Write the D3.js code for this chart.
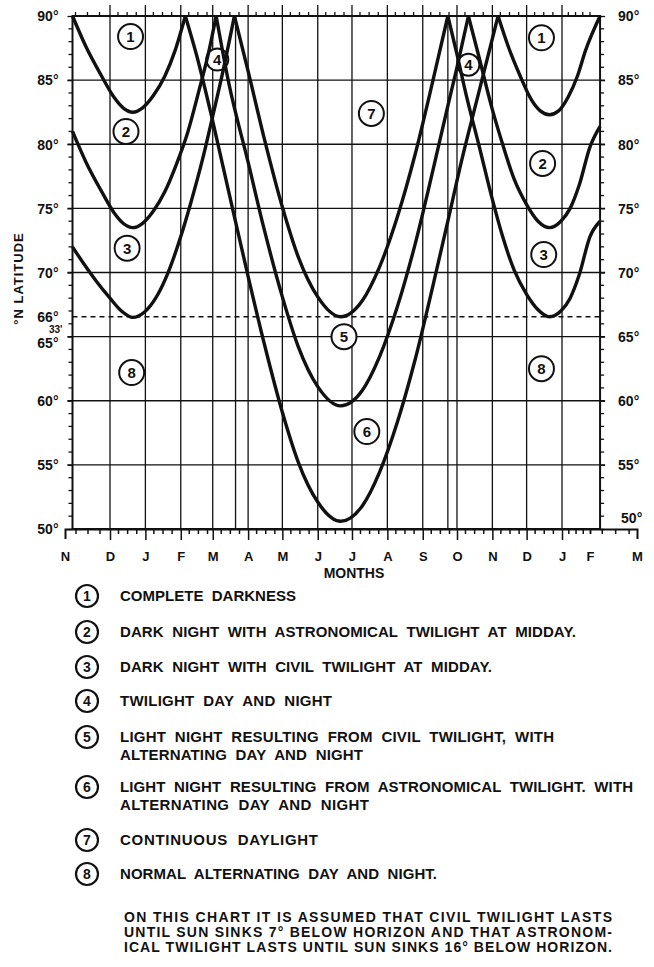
<!DOCTYPE html>
<html>
<head>
<meta charset="utf-8">
<script src="https://cdnjs.cloudflare.com/ajax/libs/d3/7.8.5/d3.min.js"></script>
<style>
  body { margin: 0; background: #fff; }
  svg text { font-family: "Liberation Sans", Arial, sans-serif; font-weight: bold; fill: #111; }
</style>
</head>
<body>
<script>
const parse = d3.timeParse('%Y-%m-%d');

// month letters along the bottom, Nov (year 0) .. Mar (year 2)
const monthLabels = ['N','D','J','F','M','A','M','J','J','A','S','O','N','D','J','F','M'];
const latTicks = [50, 55, 60, 65, 70, 75, 80, 85, 90];
const arcticCircle = 66.55;
const equinoxes = ['2001-03-21', '2001-09-23'];

// boundary curves, [date, latitude]
// sun 16 deg below horizon at midday (1 / 2)
const completeDark1 = [
  ['2000-11-06', 90], ['2000-11-15', 87.6], ['2000-11-25', 85.4], ['2000-12-05', 83.6],
  ['2000-12-13', 82.8], ['2000-12-21', 82.5], ['2000-12-29', 82.8], ['2001-01-08', 83.8],
  ['2001-01-18', 85.3], ['2001-01-27', 87.3], ['2001-02-05', 90]
];
const completeDark2 = [
  ['2001-11-06', 90], ['2001-11-15', 87.6], ['2001-11-25', 85.4], ['2001-12-05', 83.5],
  ['2001-12-13', 82.6], ['2001-12-21', 82.3], ['2001-12-29', 82.6], ['2002-01-08', 83.7],
  ['2002-01-18', 85.3], ['2002-01-27', 87.3], ['2002-02-07', 90]
];
// sun 7 deg below horizon at midday (2 / 3)
const astroNoon1 = [
  ['2000-11-06', 81.0], ['2000-11-15', 78.6], ['2000-11-25', 76.4], ['2000-12-05', 74.6],
  ['2000-12-13', 73.8], ['2000-12-21', 73.5], ['2000-12-29', 73.8], ['2001-01-08', 74.8],
  ['2001-01-18', 76.3], ['2001-01-28', 78.4], ['2001-02-07', 80.9], ['2001-02-17', 84.2],
  ['2001-02-25', 87.0], ['2001-03-04', 90]
];
const astroNoon2 = [
  ['2001-10-11', 90], ['2001-10-20', 86.9], ['2001-11-01', 82.7], ['2001-11-10', 80.0],
  ['2001-11-20', 77.3], ['2001-12-01', 75.3], ['2001-12-11', 74.0], ['2001-12-21', 73.5],
  ['2001-12-31', 74.0], ['2002-01-10', 75.0], ['2002-01-20', 76.8], ['2002-02-01', 79.8],
  ['2002-02-07', 81.4]
];
// sun at horizon at midday (3 / 8)
const civilNoon1 = [
  ['2000-11-06', 72.0], ['2000-11-14', 70.6], ['2000-11-22', 69.3], ['2000-12-01', 68.0],
  ['2000-12-11', 67.0], ['2000-12-21', 66.5], ['2000-12-31', 66.9], ['2001-01-10', 68.0],
  ['2001-01-20', 69.8], ['2001-02-01', 72.8], ['2001-02-10', 75.5], ['2001-02-20', 78.8],
  ['2001-03-01', 82.2], ['2001-03-10', 85.7], ['2001-03-20', 90]
];
const civilNoon2 = [
  ['2001-09-23', 90], ['2001-10-01', 87.0], ['2001-10-10', 83.5], ['2001-10-20', 80.0],
  ['2001-11-01', 75.7], ['2001-11-10', 72.8], ['2001-11-20', 70.2], ['2001-12-01', 68.3],
  ['2001-12-11', 67.1], ['2001-12-21', 66.55], ['2001-12-31', 67.0], ['2002-01-10', 68.0],
  ['2002-01-20', 69.8], ['2002-02-01', 72.8], ['2002-02-07', 74.0]
];
// summer: midnight sun (7 / 5)
const midnightSun = [
  ['2001-03-20', 90], ['2001-04-01', 85.7], ['2001-04-15', 80.5], ['2001-05-01', 75.1],
  ['2001-05-15', 71.2], ['2001-06-01', 68.1], ['2001-06-21', 66.55], ['2001-07-10', 67.8],
  ['2001-07-25', 70.4], ['2001-08-10', 74.4], ['2001-08-25', 79.1], ['2001-09-10', 85.0],
  ['2001-09-23', 90]
];
// summer: civil twilight all night (5 / 6)
const civilNight = [
  ['2001-03-04', 90], ['2001-03-15', 84.8], ['2001-04-01', 78.6], ['2001-04-15', 73.4],
  ['2001-05-01', 68.1], ['2001-05-15', 64.2], ['2001-06-01', 61.1], ['2001-06-21', 59.6],
  ['2001-07-10', 60.8], ['2001-07-25', 63.4], ['2001-08-10', 67.4], ['2001-08-25', 72.1],
  ['2001-09-10', 78.0], ['2001-09-23', 83.0], ['2001-10-01', 86.0], ['2001-10-11', 90]
];
// summer: astronomical twilight all night (6 / 8)
const astroNight = [
  ['2001-02-05', 90], ['2001-02-15', 86.9], ['2001-03-01', 81.8], ['2001-03-15', 76.3],
  ['2001-04-01', 69.7], ['2001-04-15', 64.5], ['2001-05-01', 59.1], ['2001-05-15', 55.2],
  ['2001-06-01', 52.1], ['2001-06-21', 50.6], ['2001-07-10', 51.8], ['2001-07-25', 54.4],
  ['2001-08-10', 58.4], ['2001-08-25', 63.1], ['2001-09-10', 69.0], ['2001-09-23', 74.0],
  ['2001-10-05', 78.7], ['2001-10-20', 84.0], ['2001-11-06', 90]
];

const curves = [completeDark1, completeDark2, astroNoon1, astroNoon2, civilNoon1,
                civilNoon2, midnightSun, civilNight, astroNight];

// circled region numbers placed on the chart
const regionMarks = [
  { n: '1', date: '2000-12-19', lat: 88.4 }, { n: '1', date: '2001-12-14', lat: 88.3 },
  { n: '2', date: '2000-12-15', lat: 81.0 }, { n: '2', date: '2001-12-15', lat: 78.5 },
  { n: '3', date: '2000-12-16', lat: 71.9 }, { n: '3', date: '2001-12-16', lat: 71.4 },
  { n: '4', date: '2001-03-05', lat: 86.6 }, { n: '4', date: '2001-10-11', lat: 86.2 },
  { n: '5', date: '2001-06-24', lat: 65.0 }, { n: '6', date: '2001-07-14', lat: 57.6 },
  { n: '7', date: '2001-07-18', lat: 82.4 },
  { n: '8', date: '2000-12-20', lat: 62.2 }, { n: '8', date: '2001-12-14', lat: 62.5 }
];

const legendItems = [
  ['1', ['COMPLETE  DARKNESS']],
  ['2', ['DARK  NIGHT  WITH  ASTRONOMICAL  TWILIGHT  AT  MIDDAY.']],
  ['3', ['DARK  NIGHT  WITH  CIVIL  TWILIGHT  AT  MIDDAY.']],
  ['4', ['TWILIGHT  DAY  AND  NIGHT']],
  ['5', ['LIGHT  NIGHT  RESULTING  FROM  CIVIL  TWILIGHT,  WITH', 'ALTERNATING  DAY  AND  NIGHT']],
  ['6', ['LIGHT  NIGHT  RESULTING  FROM  ASTRONOMICAL  TWILIGHT.  WITH', 'ALTERNATING  DAY  AND  NIGHT']],
  ['7', ['CONTINUOUS  DAYLIGHT']],
  ['8', ['NORMAL  ALTERNATING  DAY  AND  NIGHT.']]
];
const noteLines = [
  'ON THIS CHART IT IS ASSUMED THAT CIVIL TWILIGHT LASTS',
  'UNTIL SUN SINKS 7\u00b0 BELOW HORIZON AND THAT ASTRONOM-',
  'ICAL TWILIGHT LASTS UNTIL SUN SINKS 16\u00b0 BELOW HORIZON.'
];

// ---------- layout ----------
const W = 654, H = 967;
const plotTop = 16, plotBottom = 529;

// months are evenly spaced except the stretched end months
const x = d3.scaleTime()
  .domain([parse('2000-11-01'), parse('2000-12-01'), parse('2002-01-01'), parse('2002-02-01'), parse('2002-03-01')])
  .range([65, 110, 562, 590, 637]);
const y = d3.scaleLinear().domain([50, 90]).range([plotBottom, plotTop]);

const frameStart = parse('2000-11-06'), frameEnd = parse('2002-02-07');
const x0 = x(frameStart), x1 = x(frameEnd);

const monthDates = d3.timeMonth.range(parse('2000-11-01'), parse('2002-03-02'));
const gridMonths = monthDates.filter(d => d > frameStart && d < parse('2002-01-15'));
const minorDates = [];
monthDates.forEach(m => [8, 16, 24].forEach(day => {
  const d = new Date(m.getFullYear(), m.getMonth(), day);
  if (d < parse('2002-03-01')) minorDates.push(d);
}));
minorDates.push(parse('2002-02-01'));

const svg = d3.select('body').append('svg')
  .attr('width', W).attr('height', H);

// grid
const grid = svg.append('g').attr('stroke', '#111').attr('stroke-width', 1.3);
grid.selectAll('.hgrid').data(latTicks.filter(v => v > 50 && v < 90)).enter().append('line')
  .attr('x1', x0 - 5).attr('x2', x1 + 5)
  .attr('y1', d => y(d)).attr('y2', d => y(d));
grid.selectAll('.vgrid').data(gridMonths).enter().append('line')
  .attr('x1', d => x(d)).attr('x2', d => x(d))
  .attr('y1', plotTop - 11).attr('y2', plotBottom);
grid.selectAll('.equinox').data(equinoxes).enter().append('line')
  .attr('x1', d => x(parse(d))).attr('x2', d => x(parse(d)))
  .attr('y1', plotTop).attr('y2', plotBottom);

// minor ticks: top edge, left and right edges
grid.selectAll('.topminor').data(minorDates.filter(d => d > frameStart && d < frameEnd)).enter().append('line')
  .attr('x1', d => x(d)).attr('x2', d => x(d))
  .attr('y1', plotTop - 4).attr('y2', plotTop);
const degMinor = d3.range(50, 91).filter(v => v % 5 !== 0);
grid.selectAll('.lminor').data(degMinor).enter().append('line')
  .attr('x1', x0 - 4).attr('x2', x0).attr('y1', d => y(d)).attr('y2', d => y(d));
grid.selectAll('.rminor').data(degMinor).enter().append('line')
  .attr('x1', x1).attr('x2', x1 + 4).attr('y1', d => y(d)).attr('y2', d => y(d));

// arctic circle
svg.append('line')
  .attr('x1', x0).attr('x2', x1)
  .attr('y1', y(arcticCircle)).attr('y2', y(arcticCircle))
  .attr('stroke', '#111').attr('stroke-width', 1.5)
  .attr('stroke-dasharray', '5,4');

// frame
svg.append('rect')
  .attr('x', x0).attr('y', plotTop)
  .attr('width', x1 - x0).attr('height', plotBottom - plotTop)
  .attr('fill', 'none').attr('stroke', '#111').attr('stroke-width', 2);

// bottom axis (runs past the frame both ways)
const xAxis = d3.axisBottom(x)
  .tickValues(monthDates)
  .tickFormat((d, i) => monthLabels[i])
  .tickSize(11).tickSizeOuter(10).tickPadding(12);
const gx = svg.append('g').attr('transform', `translate(0,${plotBottom})`).call(xAxis);
gx.select('.domain').attr('stroke', '#111').attr('stroke-width', 2);
gx.selectAll('.tick line').attr('stroke', '#111').attr('stroke-width', 1.5)
  .attr('y2', (d, i) => (i === 0 || i === monthDates.length - 1) ? 0 : (gridMonths.includes(d) ? 11 : 5));
gx.selectAll('.tick text').style('font-size', '13px').attr('fill', '#111');

const xMinor = d3.axisBottom(x).tickValues(minorDates).tickFormat('').tickSize(5).tickSizeOuter(0);
const gxm = svg.append('g').attr('transform', `translate(0,${plotBottom})`).call(xMinor);
gxm.select('.domain').remove();
gxm.selectAll('.tick line').attr('stroke', '#111').attr('stroke-width', 1.5);

// latitude labels, left and right
const yLeft = d3.axisLeft(y).tickValues(latTicks).tickFormat(d => d + '\u00b0').tickSize(5).tickPadding(9);
const gyl = svg.append('g').attr('transform', `translate(${x0},0)`).call(yLeft);
gyl.select('.domain').remove();
gyl.selectAll('.tick line').attr('stroke', '#111').attr('stroke-width', 1.3);
gyl.selectAll('.tick text').style('font-size', '14px').attr('fill', '#111')
  .attr('dy', d => d === 65 ? '0.78em' : '0.34em');

const yRight = d3.axisRight(y).tickValues(latTicks).tickFormat(d => d + '\u00b0').tickSize(5).tickPadding(13);
const gyr = svg.append('g').attr('transform', `translate(${x1},0)`).call(yRight);
gyr.select('.domain').remove();
gyr.selectAll('.tick line').attr('stroke', '#111').attr('stroke-width', 1.3);
gyr.selectAll('.tick text').style('font-size', '14px').attr('fill', '#111')
  .attr('dy', d => d === 50 ? '-0.45em' : '0.34em')
  .attr('dx', d => d === 50 ? 3 : 0);

// 66°33' marker on the left
svg.append('text')
  .attr('x', x0 - 14).attr('y', y(arcticCircle)).attr('dy', '0.34em')
  .attr('text-anchor', 'end').style('font-size', '14px')
  .text('66\u00b0');
svg.append('text')
  .attr('x', x0 - 10).attr('y', y(arcticCircle) + 16)
  .attr('text-anchor', 'end').style('font-size', '10px')
  .text("33'");

// axis titles
svg.append('text')
  .attr('transform', `translate(23,${(plotTop + plotBottom) / 2 + 6}) rotate(-90)`)
  .attr('text-anchor', 'middle').style('font-size', '13px').style('letter-spacing', '1px')
  .text('\u00b0N LATITUDE');
svg.append('text')
  .attr('x', 354).attr('y', 578)
  .attr('text-anchor', 'middle').style('font-size', '14px')
  .text('MONTHS');

// circled region numbers (under the curves)
const marks = svg.append('g').selectAll('g').data(regionMarks).enter().append('g')
  .attr('transform', d => `translate(${x(parse(d.date))},${y(d.lat)})`);
marks.append('circle')
  .attr('r', d => d.n === '4' ? 11 : 12.5)
  .attr('fill', '#fff').attr('stroke', '#111').attr('stroke-width', 2);
marks.append('text')
  .attr('text-anchor', 'middle').attr('dy', '0.36em')
  .style('font-size', '15px')
  .text(d => d.n);

// boundary curves
const line = d3.line()
  .x(d => x(parse(d[0])))
  .y(d => y(d[1]))
  .curve(d3.curveMonotoneX);
svg.append('g').selectAll('path').data(curves).enter().append('path')
  .attr('d', line)
  .attr('fill', 'none').attr('stroke', '#111')
  .attr('stroke-width', 3.4).attr('stroke-linejoin', 'round');

// legend
const legendY = [596, 632, 667, 701, 737, 787, 840, 874];
const legendWidths = [[176], [456], [372], [212], [434, 243], [513, 249], [198], [317]];
const lg = svg.append('g').selectAll('g').data(legendItems).enter().append('g')
  .attr('transform', (d, i) => `translate(0,${legendY[i]})`);
lg.append('circle')
  .attr('cx', 87).attr('r', 11)
  .attr('fill', '#fff').attr('stroke', '#111').attr('stroke-width', 2.2);
lg.append('text')
  .attr('x', 87).attr('text-anchor', 'middle').attr('dy', '0.36em')
  .style('font-size', '14px')
  .text(d => d[0]);
lg.each(function (d, i) {
  d3.select(this).selectAll('.ltxt').data(d[1]).enter().append('text')
    .attr('x', 120).attr('y', (t, j) => j * 18).attr('dy', '0.36em')
    .style('font-size', '15px')
    .style('white-space', 'pre')
    .attr('textLength', (t, j) => legendWidths[i][j]).attr('lengthAdjust', 'spacing')
    .text(t => t);
});

// note
svg.append('g').selectAll('text').data(noteLines).enter().append('text')
  .attr('x', 124).attr('y', (d, i) => 917 + i * 15).attr('dy', '0.36em')
  .style('font-size', '14px')
  .attr('textLength', 488).attr('lengthAdjust', 'spacing')
  .text(d => d);
</script>
</body>
</html>
